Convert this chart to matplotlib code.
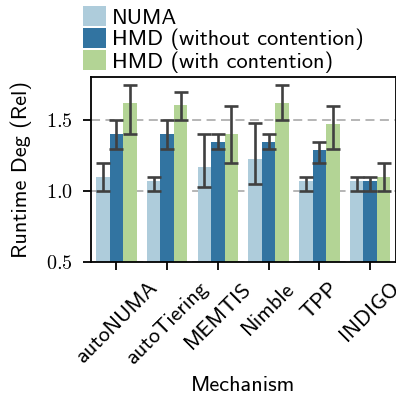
import numpy as np
import matplotlib
matplotlib.use("Agg")
import matplotlib.pyplot as plt
import seaborn as sns

mechanisms = ['autoNUMA', 'autoTiering', 'MEMTIS', 'Nimble', 'TPP', 'INDIGO']
series = ['NUMA', 'HMD (without contention)', 'HMD (with contention)']

# mean runtime degradation and error bar bounds, per series
numa = [1.10, 1.07, 1.17, 1.23, 1.07, 1.07]
numa_lo = [1.00, 1.00, 1.03, 1.05, 1.00, 1.00]
numa_hi = [1.20, 1.10, 1.40, 1.48, 1.10, 1.10]

hmd_free = [1.40, 1.40, 1.35, 1.35, 1.29, 1.07]
hmd_free_lo = [1.30, 1.30, 1.30, 1.30, 1.20, 1.00]
hmd_free_hi = [1.50, 1.50, 1.40, 1.40, 1.35, 1.10]

hmd_cont = [1.62, 1.61, 1.40, 1.62, 1.47, 1.10]
hmd_cont_lo = [1.40, 1.50, 1.20, 1.50, 1.30, 1.00]
hmd_cont_hi = [1.75, 1.70, 1.60, 1.75, 1.60, 1.20]


def main():
    plt.rcParams['font.family'] = ['cmss10', 'DejaVu Sans']
    plt.rcParams['axes.unicode_minus'] = False
    plt.rcParams['mathtext.fontset'] = 'cm'

    pal = sns.color_palette('Paired')
    colors = [sns.desaturate(pal[0], 0.75), sns.desaturate(pal[1], 0.75),
              sns.desaturate(pal[2], 0.75)]

    means = [numa, hmd_free, hmd_cont]
    lows = [numa_lo, hmd_free_lo, hmd_cont_lo]
    highs = [numa_hi, hmd_free_hi, hmd_cont_hi]

    fig = plt.figure(figsize=(3.96, 4.04), dpi=100)
    ax = fig.add_axes([91 / 396, (404 - 262) / 404, 304.5 / 396, 185 / 404])

    x = np.arange(len(mechanisms))
    w = 0.8 / 3
    for i in range(3):
        m = np.array(means[i])
        lo = m - np.array(lows[i])
        hi = np.array(highs[i]) - m
        pos = x + (i - 1) * w
        ax.bar(pos, m, width=w, color=colors[i], label=series[i], zorder=2)
        ax.errorbar(pos, m, yerr=[lo, hi], fmt='none', ecolor='#404040',
                    elinewidth=1.9, capsize=5, capthick=1.9, zorder=3)

    ax.set_xlim(-0.5, len(mechanisms) - 0.5)
    ax.set_ylim(0.5, 1.805)
    ax.set_yticks([0.5, 1.0, 1.5])
    ax.set_yticklabels(['$0.5$', '$1.0$', '$1.5$'], fontsize=14.5)
    ax.set_xticks(x)
    ax.set_xticklabels(mechanisms, rotation=45, ha='center', fontsize=16)
    ax.tick_params(length=6, width=1.3, color='black')
    ax.tick_params(axis='x', pad=6)
    ax.tick_params(axis='y', pad=7)
    for s in ax.spines.values():
        s.set_linewidth(1.3)
        s.set_color('black')

    ax.grid(axis='y', linestyle='--', color='#b0b0b0', linewidth=1.3,
            dashes=(5, 3), zorder=0)
    ax.set_axisbelow(True)

    ax.set_ylabel('Runtime Deg (Rel)', fontsize=16, labelpad=10)
    ax.set_xlabel('Mechanism', fontsize=16, labelpad=6)

    ax.legend(loc='lower left', bbox_to_anchor=(-0.025, 1.022), frameon=False,
              fontsize=16, handlelength=1.0, handleheight=1.0,
              handletextpad=0.3, labelspacing=0.0, borderaxespad=0,
              borderpad=0)

    fig.savefig('out.png', dpi=100)


if __name__ == "__main__":
    main()
